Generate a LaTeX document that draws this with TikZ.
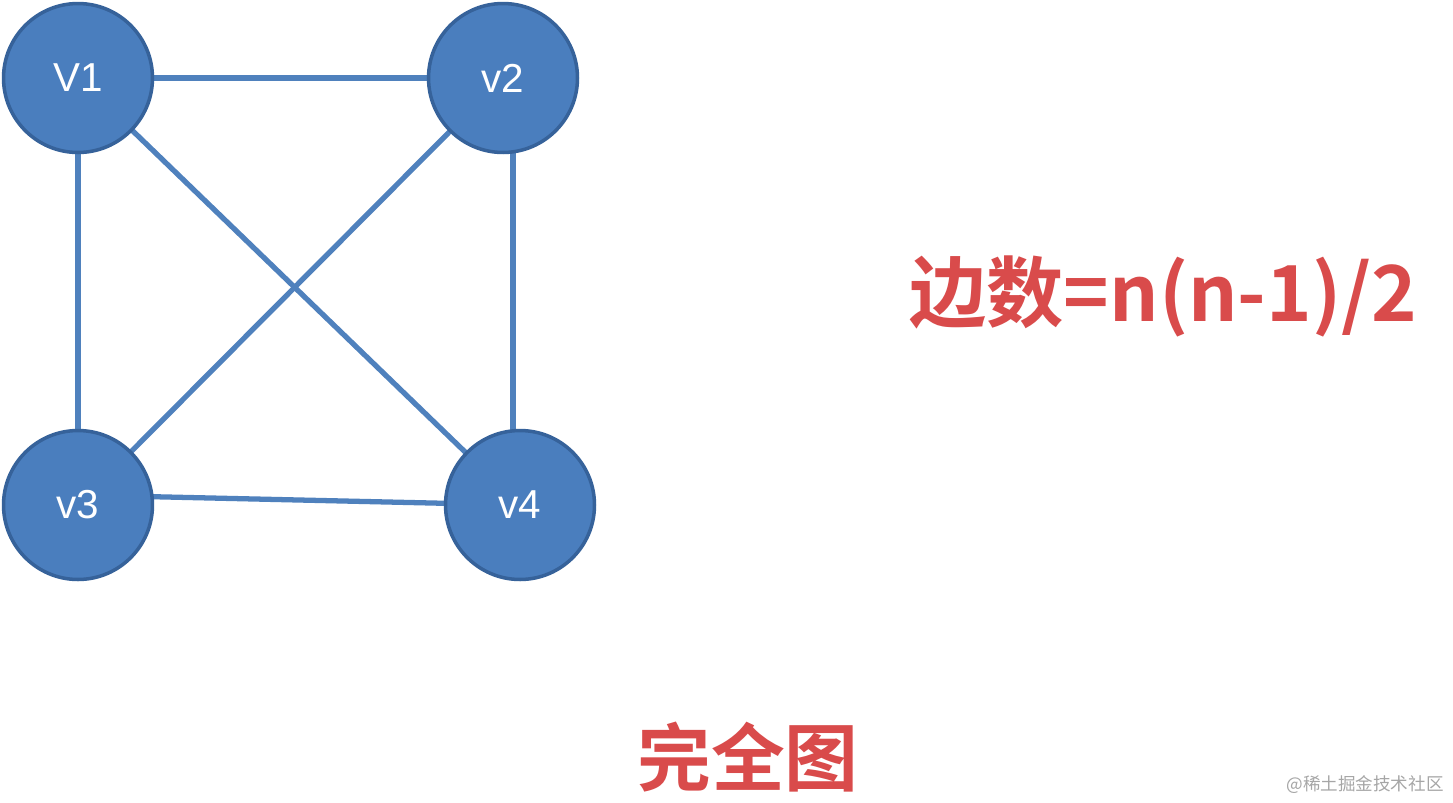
\documentclass[tikz,border=0pt]{standalone}
\usepackage{fontspec}
\setmainfont{Liberation Sans}
\newfontfamily\cjk{Noto Sans CJK SC}[BoldFont={Noto Sans CJK SC Bold}]
\definecolor{nodefill}{HTML}{4A7EBE}
\definecolor{nodeedge}{HTML}{36629A}
\definecolor{edgecol}{HTML}{4F81BD}
\definecolor{redtxt}{HTML}{D94B4B}
\begin{document}
\begin{tikzpicture}[x=0.02cm,y=-0.02cm,
  vert/.style={circle,fill=nodefill,draw=nodeedge,line width=2pt,minimum size=2.98cm,inner sep=0pt,text=white,font=\fontsize{23}{26}\selectfont},
  edge/.style={draw=edgecol,line width=3pt}]
\useasboundingbox (0,0) rectangle (1453,802);
\fill[white] (0,0) rectangle (1453,802);
\coordinate (c1) at (78,78);
\draw[edge] (78,78) -- (503,78);
\draw[edge] (78,78) -- (78,505);
\draw[edge] (78,78) -- (520,505);
\draw[edge] (503,78) -- (78,505);
\draw[edge] (513,78) -- (513,505);
\draw[edge] (78,495) -- (520,505);
\node[vert] (v1) at (78,78) {V1};
\node[vert] (v2) at (503,78) {v2};
\node[vert] (v3) at (78,505) {v3};
\node[vert] (v4) at (520,505) {v4};
\node[text=redtxt,font=\cjk\bfseries\fontsize{44}{50}\selectfont] (f) at (1163,296) {边数=n(n-1)/2};
\node[text=redtxt,font=\cjk\bfseries\fontsize{42}{48}\selectfont] (t) at (748,757) {完全图};
\node[text=gray!70,font=\cjk\fontsize{10}{12}\selectfont] (w) at (1365,785) {@稀土掘金技术社区};
\end{tikzpicture}
\end{document}
